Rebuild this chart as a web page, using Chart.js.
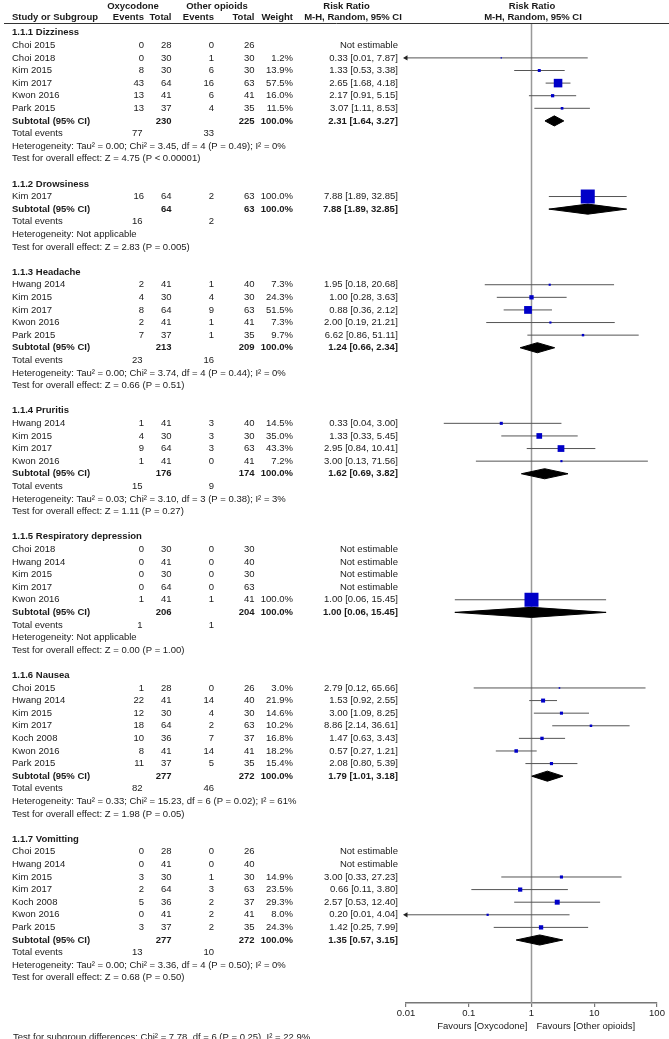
<!DOCTYPE html>
<html>
<head>
<meta charset="utf-8">
<script src="https://cdn.jsdelivr.net/npm/chart.js@4.4.1/dist/chart.umd.min.js"></script>
<style>
  html, body { margin: 0; padding: 0; background: #fff; }
  #wrap { width: 669px; height: 1039px; }
</style>
</head>
<body>
<div id="wrap"><canvas id="forest" width="669" height="1039"></canvas></div>
<script>
// subgroups, in order
var groupTitles = ['1.1.1 Dizziness', '1.1.2 Drowsiness', '1.1.3 Headache', '1.1.4 Pruritis',
    '1.1.5 Respiratory depression', '1.1.6 Nausea', '1.1.7 Vomitting'];

// one entry per study row (studyGroup = index into groupTitles)
var studyGroup = [0,0,0,0,0,0, 1, 2,2,2,2,2, 3,3,3,3, 4,4,4,4,4, 5,5,5,5,5,5,5, 6,6,6,6,6,6,6];
var studyNames = [
    'Choi 2015', 'Choi 2018', 'Kim 2015', 'Kim 2017', 'Kwon 2016', 'Park 2015',
    'Kim 2017',
    'Hwang 2014', 'Kim 2015', 'Kim 2017', 'Kwon 2016', 'Park 2015',
    'Hwang 2014', 'Kim 2015', 'Kim 2017', 'Kwon 2016',
    'Choi 2018', 'Hwang 2014', 'Kim 2015', 'Kim 2017', 'Kwon 2016',
    'Choi 2015', 'Hwang 2014', 'Kim 2015', 'Kim 2017', 'Koch 2008', 'Kwon 2016', 'Park 2015',
    'Choi 2015', 'Hwang 2014', 'Kim 2015', 'Kim 2017', 'Koch 2008', 'Kwon 2016', 'Park 2015'
];
var oxyEvents   = [0,0,8,43,13,13, 16, 2,4,8,2,7, 1,4,9,1, 0,0,0,0,1, 1,22,12,18,10,8,11, 0,0,3,2,5,0,3];
var oxyTotal    = [28,30,30,64,41,37, 64, 41,30,64,41,37, 41,30,64,41, 30,41,30,64,41, 28,41,30,64,36,41,37, 28,41,30,64,36,41,37];
var otherEvents = [0,1,6,16,6,4, 2, 1,4,9,1,1, 3,3,3,0, 0,0,0,0,1, 0,14,4,2,7,14,5, 0,0,1,3,2,2,2];
var otherTotal  = [26,30,30,63,41,35, 63, 40,30,63,41,35, 40,30,63,41, 30,40,30,63,41, 26,40,30,63,37,41,35, 26,40,30,63,37,41,35];
var weights     = [null,1.2,13.9,57.5,16.0,11.5, 100.0, 7.3,24.3,51.5,7.3,9.7, 14.5,35.0,43.3,7.2,
    null,null,null,null,100.0, 3.0,21.9,14.6,10.2,16.8,18.2,15.4, null,null,14.9,23.5,29.3,8.0,24.3];
var riskRatio   = [null,0.33,1.33,2.65,2.17,3.07, 7.88, 1.95,1.00,0.88,2.00,6.62, 0.33,1.33,2.95,3.00,
    null,null,null,null,1.00, 2.79,1.53,3.00,8.86,1.47,0.57,2.08, null,null,3.00,0.66,2.57,0.20,1.42];
var ciLow       = [null,0.01,0.53,1.68,0.91,1.11, 1.89, 0.18,0.28,0.36,0.19,0.86, 0.04,0.33,0.84,0.13,
    null,null,null,null,0.06, 0.12,0.92,1.09,2.14,0.63,0.27,0.80, null,null,0.33,0.11,0.53,0.01,0.25];
var ciHigh      = [null,7.87,3.38,4.18,5.15,8.53, 32.85, 20.68,3.63,2.12,21.21,51.11, 3.00,5.45,10.41,71.56,
    null,null,null,null,15.45, 65.66,2.55,8.25,36.61,3.43,1.21,5.39, null,null,27.23,3.80,12.40,4.04,7.99];

// subtotal rows, one per subgroup
var subOxyTotal    = [230, 64, 213, 176, 206, 277, 277];
var subOtherTotal  = [225, 63, 209, 174, 204, 272, 272];
var subRR          = [2.31, 7.88, 1.24, 1.62, 1.00, 1.79, 1.35];
var subLow         = [1.64, 1.89, 0.66, 0.69, 0.06, 1.01, 0.57];
var subHigh        = [3.27, 32.85, 2.34, 3.82, 15.45, 3.18, 3.15];
var totOxyEvents   = [77, 16, 23, 15, 1, 82, 13];
var totOtherEvents = [33, 2, 16, 9, 1, 46, 10];
var hetTexts = [
    'Heterogeneity: Tau² = 0.00; Chi² = 3.45, df = 4 (P = 0.49); I² = 0%',
    'Heterogeneity: Not applicable',
    'Heterogeneity: Tau² = 0.00; Chi² = 3.74, df = 4 (P = 0.44); I² = 0%',
    'Heterogeneity: Tau² = 0.03; Chi² = 3.10, df = 3 (P = 0.38); I² = 3%',
    'Heterogeneity: Not applicable',
    'Heterogeneity: Tau² = 0.33; Chi² = 15.23, df = 6 (P = 0.02); I² = 61%',
    'Heterogeneity: Tau² = 0.00; Chi² = 3.36, df = 4 (P = 0.50); I² = 0%'
];
var effectTexts = [
    'Test for overall effect: Z = 4.75 (P < 0.00001)',
    'Test for overall effect: Z = 2.83 (P = 0.005)',
    'Test for overall effect: Z = 0.66 (P = 0.51)',
    'Test for overall effect: Z = 1.11 (P = 0.27)',
    'Test for overall effect: Z = 0.00 (P = 1.00)',
    'Test for overall effect: Z = 1.98 (P = 0.05)',
    'Test for overall effect: Z = 0.68 (P = 0.50)'
];
var subgroupDiffText = 'Test for subgroup differences: Chi² = 7.78, df = 6 (P = 0.25), I² = 22.9%';

var xTicks = [0.01, 0.1, 1, 10, 100];
var xMin = 0.01, xMax = 100;

// ---- lay out rows ----
var rows = [];
var r = 0;
groupTitles.forEach(function (t, g) {
    rows.push({ type: 'head', g: g, r: r++ });
    for (var i = 0; i < studyNames.length; i++) {
        if (studyGroup[i] === g) rows.push({ type: 'study', i: i, r: r++ });
    }
    rows.push({ type: 'sub', g: g, r: r++ });
    rows.push({ type: 'tot', g: g, r: r++ });
    rows.push({ type: 'het', g: g, r: r++ });
    rows.push({ type: 'eff', g: g, r: r++ });
    r++; // blank line
});
var yTop = -0.77, yBottom = 77;

function fmt(v) { return v.toFixed(2); }
function rrText(v, lo, hi) { return fmt(v) + ' [' + fmt(lo) + ', ' + fmt(hi) + ']'; }

// ---- datasets ----
var datasets = [];

// line of no effect
datasets.push({
    data: [{ x: 1, y: yTop }, { x: 1, y: yBottom }],
    showLine: true, borderColor: '#999999', borderWidth: 1.5, pointRadius: 0, order: 5
});

var squares = [], squareSizes = [], arrows = [];
rows.forEach(function (row) {
    if (row.type === 'study' && riskRatio[row.i] != null) {
        var i = row.i;
        datasets.push({
            data: [{ x: ciLow[i], y: row.r }, { x: ciHigh[i], y: row.r }],
            showLine: true, borderColor: '#555555', borderWidth: 1, pointRadius: 0, order: 3
        });
        squares.push({ x: riskRatio[i], y: row.r });
        var side = 1.2 + 12.8 * weights[i] / 100;
        squareSizes.push(side / (2 * Math.SQRT1_2));
        if (ciLow[i] <= xMin) arrows.push({ x: ciLow[i], y: row.r });
    }
    if (row.type === 'sub') {
        var g = row.g, h = 0.4;
        datasets.push({
            data: [
                { x: subLow[g], y: row.r }, { x: subRR[g], y: row.r - h },
                { x: subHigh[g], y: row.r }, { x: subRR[g], y: row.r + h },
                { x: subLow[g], y: row.r }
            ],
            showLine: true, fill: 'shape', backgroundColor: '#000000',
            borderColor: '#000000', borderWidth: 1, pointRadius: 0, order: 1
        });
    }
});

datasets.push({
    data: squares, pointStyle: 'rect', pointRadius: squareSizes,
    backgroundColor: '#0000c8', borderWidth: 0, order: 0
});
datasets.push({
    data: arrows, pointStyle: 'triangle', rotation: -90, pointRadius: 3,
    backgroundColor: '#222222', borderColor: '#222222', borderWidth: 0, clip: false, order: 0
});

// ---- table text ----
var FONT = '"Liberation Sans", Arial, sans-serif';
var SIZE = 9.5;
var col = { name: 12, oxyEv: 144, oxyTot: 171.5, othEv: 214, othTot: 254.5, weight: 293, rr: 398 };

var tablePlugin = {
    id: 'table',
    afterDraw: function (chart) {
        var ctx = chart.ctx, ys = chart.scales.y;
        ctx.save();
        ctx.fillStyle = '#1a1a1a';
        ctx.textBaseline = 'middle';

        function txt(s, x, y, align, bold) {
            ctx.font = (bold ? 'bold ' : '') + SIZE + 'px ' + FONT;
            ctx.textAlign = align;
            ctx.fillText(s, x, y);
        }

        // header
        txt('Oxycodone', 133, 6.5, 'center', true);
        txt('Other opioids', 217, 6.5, 'center', true);
        txt('Risk Ratio', 346.5, 6.5, 'center', true);
        txt('Risk Ratio', 532, 6.5, 'center', true);
        txt('Study or Subgroup', col.name, 17.5, 'left', true);
        txt('Events', col.oxyEv, 17.5, 'right', true);
        txt('Total', col.oxyTot, 17.5, 'right', true);
        txt('Events', col.othEv, 17.5, 'right', true);
        txt('Total', col.othTot, 17.5, 'right', true);
        txt('Weight', col.weight, 17.5, 'right', true);
        txt('M-H, Random, 95% CI', 353, 17.5, 'center', true);
        txt('M-H, Random, 95% CI', 533, 17.5, 'center', true);

        ctx.strokeStyle = '#333333';
        ctx.lineWidth = 1;
        ctx.beginPath();
        ctx.moveTo(4, 23.5);
        ctx.lineTo(669, 23.5);
        ctx.stroke();

        rows.forEach(function (row) {
            var y = ys.getPixelForValue(row.r);
            var i = row.i, g = row.g;
            if (row.type === 'head') {
                txt(groupTitles[g], col.name, y, 'left', true);
            } else if (row.type === 'study') {
                txt(studyNames[i], col.name, y, 'left');
                txt(String(oxyEvents[i]), col.oxyEv, y, 'right');
                txt(String(oxyTotal[i]), col.oxyTot, y, 'right');
                txt(String(otherEvents[i]), col.othEv, y, 'right');
                txt(String(otherTotal[i]), col.othTot, y, 'right');
                if (riskRatio[i] == null) {
                    txt('Not estimable', col.rr, y, 'right');
                } else {
                    txt(weights[i].toFixed(1) + '%', col.weight, y, 'right');
                    txt(rrText(riskRatio[i], ciLow[i], ciHigh[i]), col.rr, y, 'right');
                }
            } else if (row.type === 'sub') {
                txt('Subtotal (95% CI)', col.name, y, 'left', true);
                txt(String(subOxyTotal[g]), col.oxyTot, y, 'right', true);
                txt(String(subOtherTotal[g]), col.othTot, y, 'right', true);
                txt('100.0%', col.weight, y, 'right', true);
                txt(rrText(subRR[g], subLow[g], subHigh[g]), col.rr, y, 'right', true);
            } else if (row.type === 'tot') {
                txt('Total events', col.name, y, 'left');
                txt(String(totOxyEvents[g]), col.oxyEv - 1.5, y, 'right');
                txt(String(totOtherEvents[g]), col.othEv, y, 'right');
            } else if (row.type === 'het') {
                txt(hetTexts[g], col.name, y, 'left');
            } else if (row.type === 'eff') {
                txt(effectTexts[g], col.name, y, 'left');
            }
        });

        // footer
        var x1 = chart.scales.x.getPixelForValue(1);
        txt('Favours [Oxycodone]', x1 - 4, 1026.5, 'right');
        txt('Favours [Other opioids]', x1 + 5, 1026.5, 'left');
        txt(subgroupDiffText, 13, 1037.5, 'left');
        ctx.restore();
    }
};

new Chart(document.getElementById('forest'), {
    type: 'scatter',
    data: { datasets: datasets },
    options: {
        responsive: false,
        animation: false,
        events: [],
        layout: { padding: { left: 406, right: 12, top: 23, bottom: 22 } },
        plugins: { legend: { display: false }, tooltip: { enabled: false } },
        scales: {
            x: {
                type: 'logarithmic',
                min: xMin,
                max: xMax,
                afterBuildTicks: function (scale) {
                    scale.ticks = xTicks.map(function (v) { return { value: v }; });
                },
                afterFit: function (scale) { scale.height = 14; },
                grid: { drawOnChartArea: false, drawTicks: true, tickLength: 4, color: '#777777', lineWidth: 1.2 },
                border: { color: '#777777', width: 1.5 },
                ticks: {
                    padding: 1,
                    autoSkip: false,
                    maxRotation: 0,
                    color: '#1a1a1a',
                    font: { family: FONT, size: SIZE },
                    callback: function (v) { return String(v); }
                }
            },
            y: {
                type: 'linear',
                min: yTop,
                max: yBottom,
                reverse: true,
                display: false
            }
        }
    },
    plugins: [tablePlugin]
});
</script>
</body>
</html>
